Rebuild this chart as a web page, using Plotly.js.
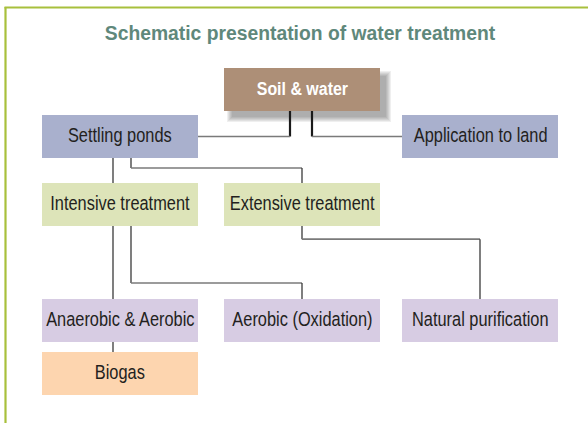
<!DOCTYPE html>
<html>
<head>
<meta charset="utf-8">
<script src="https://cdn.plot.ly/plotly-3.0.1.min.js"></script>
<style>
html,body{margin:0;padding:0;background:#fff;}
#chart{width:588px;height:423px;}
#chart .annotation-text{transform-box:fill-box;transform-origin:center;transform:scaleX(0.84);}
#chart .gtitle{transform-box:fill-box;transform-origin:center;transform:scaleX(0.92);}
</style>
</head>
<body>
<div id="chart"></div>
<script>
// ---- data ----
const chartTitle = "Schematic presentation of water treatment";
const nodeLabels = ["Soil & water", "Settling ponds", "Application to land",
  "Intensive treatment", "Extensive treatment",
  "Anaerobic & Aerobic", "Aerobic (Oxidation)", "Natural purification", "Biogas"];
const nodeColumn = [1, 0, 2, 0, 1, 0, 1, 2, 0];
const nodeRow = [0, 1, 1, 2, 2, 3, 3, 3, 4];
const nodeGroup = ["source", "primary", "primary", "treatment", "treatment",
  "process", "process", "process", "product"];
const edgeFrom = [0, 0, 1, 1, 3, 3, 4, 5];
const edgeTo = [1, 2, 3, 4, 5, 6, 7, 8];

// ---- layout / style ----
const colLeft = [42, 224, 402];
const boxW = 156;
const rowTop = [68, 115, 183, 299, 352];
const boxH = 43;
const groupFill = {source: "#ad8f77", primary: "#a9b0cd", treatment: "#dde4b9",
  process: "#d7cce3", product: "#fdd5af"};
const groupText = {source: "#ffffff", primary: "#231f20", treatment: "#231f20",
  process: "#231f20", product: "#231f20"};
const bendFrac = {"1-4": 0.4, "3-6": 0.78, "4-7": 0.18};
const FONT = "Liberation Sans, Arial, sans-serif";

const box = i => {
  const x0 = colLeft[nodeColumn[i]], y0 = rowTop[nodeRow[i]];
  return {x0, x1: x0 + boxW, y0, y1: y0 + boxH, cx: x0 + boxW / 2, cy: y0 + boxH / 2};
};

const shapes = [];
// frame
shapes.push({type: "line", xref: "x", yref: "y", x0: 5.5, x1: 5.5, y0: 7, y1: 423,
  line: {color: "#a8c03c", width: 2.2}, layer: "below"});
shapes.push({type: "line", xref: "x", yref: "y", x0: 4.5, x1: 588, y0: 7.5, y1: 7.5,
  line: {color: "#a8c03c", width: 2}, layer: "below"});

// shadow for source node
nodeLabels.forEach((_, i) => {
  if (nodeGroup[i] !== "source") return;
  const b = box(i);
  for (let k = 0; k < 6; k++) {
    shapes.push({type: "rect", xref: "x", yref: "y",
      x0: b.x0 + 8 - k, x1: b.x1 + 6 + k, y0: b.y0 + 8 - k, y1: b.y1 + 6 + k,
      fillcolor: "rgba(50,50,50,0.08)", line: {width: 0}, layer: "below"});
  }
});

// connectors
function seg(x0, y0, x1, y1, strong) {
  const vertical = x0 === x1;
  shapes.push({type: "line", xref: "x", yref: "y", x0, y0, x1, y1,
    line: {color: strong ? "#1a1a1a" : (vertical ? "#3a3a3a" : "#7a7a7a"),
      width: strong ? 2.2 : (vertical ? 1.3 : 1.6)}, layer: "below"});
}
edgeFrom.forEach((p, e) => {
  const c = edgeTo[e];
  const pb = box(p), cb = box(c);
  if (nodeRow[p] === 0) {
    const left = cb.cx < pb.cx;
    const px = pb.cx + (left ? -12 : 10);
    seg(px, pb.y1, px, cb.cy, true);
    seg(px, cb.cy, left ? cb.x1 : cb.x0, cb.cy, false);
    return;
  }
  const hasSameCol = edgeFrom.some((q, f) => q === p && nodeColumn[edgeTo[f]] === nodeColumn[p]);
  if (nodeColumn[c] === nodeColumn[p]) {
    const px = pb.cx - 7;
    seg(px, pb.y1, px, cb.y0, false);
  } else {
    const px = hasSameCol ? pb.cx + 11 : pb.cx;
    const frac = bendFrac[p + "-" + c] ?? 0.5;
    const by = pb.y1 + (cb.y0 - pb.y1) * frac;
    seg(px, pb.y1, px, by, false);
    seg(px, by, cb.cx, by, false);
    seg(cb.cx, by, cb.cx, cb.y0, false);
  }
});

// boxes
nodeLabels.forEach((_, i) => {
  const b = box(i);
  shapes.push({type: "rect", xref: "x", yref: "y", x0: b.x0, x1: b.x1, y0: b.y0, y1: b.y1,
    fillcolor: groupFill[nodeGroup[i]], line: {width: 0}, layer: "above"});
});

const annotations = nodeLabels.map((t, i) => {
  const b = box(i);
  const src = nodeGroup[i] === "source";
  return {x: b.cx, y: b.cy - 1.5, xref: "x", yref: "y", showarrow: false,
    text: src ? "<b>" + t + "</b>" : t,
    font: {family: FONT, size: src ? 19 : 19.5, color: groupText[nodeGroup[i]]},
    xanchor: "center", yanchor: "middle"};
});

const layout = {
  width: 588, height: 423,
  margin: {l: 0, r: 0, t: 0, b: 0},
  paper_bgcolor: "#ffffff", plot_bgcolor: "#ffffff",
  showlegend: false,
  title: {text: "<b>" + chartTitle + "</b>", x: 300 / 588, xanchor: "center",
    y: 1 - 33 / 423, yanchor: "middle", yref: "paper",
    font: {family: FONT, size: 21, color: "#5f887b"}},
  xaxis: {range: [0, 588], visible: false, fixedrange: true},
  yaxis: {range: [423, 0], visible: false, fixedrange: true},
  shapes, annotations
};

Plotly.newPlot("chart", [{x: [], y: [], type: "scatter", mode: "markers", hoverinfo: "skip"}], layout,
  {displayModeBar: false, staticPlot: true});
</script>
</body>
</html>
